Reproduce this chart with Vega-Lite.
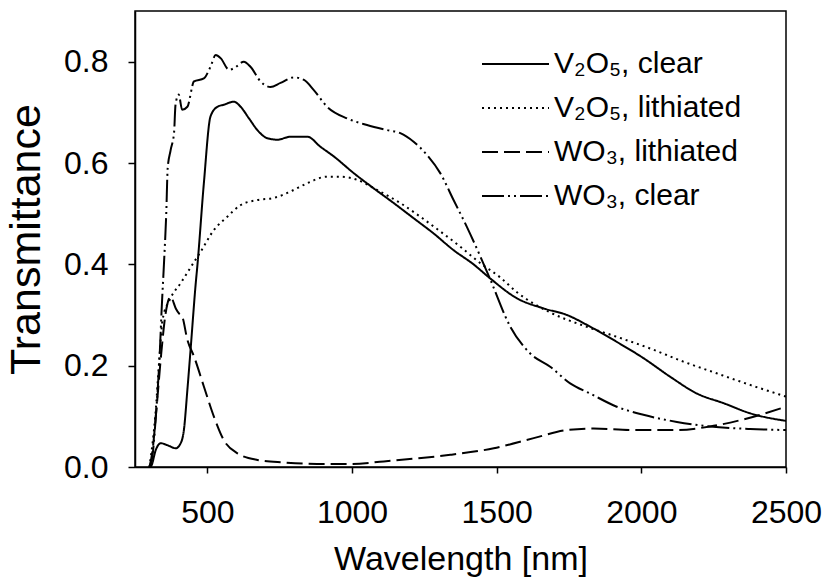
{
  "$schema": "https://vega.github.io/schema/vega-lite/v6.json",
  "width": 651,
  "height": 456,
  "autosize": "none",
  "padding": {"left": 135, "top": 11, "right": 41, "bottom": 119},
  "background": "white",
  "config": {
    "font": "Liberation Sans, Arial, sans-serif",
    "view": {"stroke": "black", "strokeWidth": 1.5}
  },
  "datasets": {
    "curves": [
      {"s": "WO₃, clear", "x": 300, "y": 0},
      {"s": "WO₃, clear", "x": 310, "y": 0.02},
      {"s": "WO₃, clear", "x": 322, "y": 0.10},
      {"s": "WO₃, clear", "x": 336, "y": 0.23},
      {"s": "WO₃, clear", "x": 342, "y": 0.31},
      {"s": "WO₃, clear", "x": 350, "y": 0.40},
      {"s": "WO₃, clear", "x": 358, "y": 0.50},
      {"s": "WO₃, clear", "x": 363, "y": 0.59},
      {"s": "WO₃, clear", "x": 373, "y": 0.625},
      {"s": "WO₃, clear", "x": 385, "y": 0.66},
      {"s": "WO₃, clear", "x": 390, "y": 0.715},
      {"s": "WO₃, clear", "x": 401, "y": 0.735},
      {"s": "WO₃, clear", "x": 413, "y": 0.705},
      {"s": "WO₃, clear", "x": 431, "y": 0.711},
      {"s": "WO₃, clear", "x": 454, "y": 0.761},
      {"s": "WO₃, clear", "x": 488, "y": 0.767},
      {"s": "WO₃, clear", "x": 511, "y": 0.790},
      {"s": "WO₃, clear", "x": 529, "y": 0.813},
      {"s": "WO₃, clear", "x": 546, "y": 0.807},
      {"s": "WO₃, clear", "x": 575, "y": 0.784},
      {"s": "WO₃, clear", "x": 592, "y": 0.787},
      {"s": "WO₃, clear", "x": 626, "y": 0.800},
      {"s": "WO₃, clear", "x": 649, "y": 0.790},
      {"s": "WO₃, clear", "x": 684, "y": 0.761},
      {"s": "WO₃, clear", "x": 718, "y": 0.750},
      {"s": "WO₃, clear", "x": 753, "y": 0.758},
      {"s": "WO₃, clear", "x": 799, "y": 0.769},
      {"s": "WO₃, clear", "x": 834, "y": 0.764},
      {"s": "WO₃, clear", "x": 868, "y": 0.744},
      {"s": "WO₃, clear", "x": 914, "y": 0.711},
      {"s": "WO₃, clear", "x": 983, "y": 0.688},
      {"s": "WO₃, clear", "x": 1052, "y": 0.675},
      {"s": "WO₃, clear", "x": 1121, "y": 0.665},
      {"s": "WO₃, clear", "x": 1167, "y": 0.659},
      {"s": "WO₃, clear", "x": 1213, "y": 0.642},
      {"s": "WO₃, clear", "x": 1259, "y": 0.616},
      {"s": "WO₃, clear", "x": 1305, "y": 0.580},
      {"s": "WO₃, clear", "x": 1351, "y": 0.527},
      {"s": "WO₃, clear", "x": 1397, "y": 0.474},
      {"s": "WO₃, clear", "x": 1444, "y": 0.415},
      {"s": "WO₃, clear", "x": 1478, "y": 0.370},
      {"s": "WO₃, clear", "x": 1547, "y": 0.277},
      {"s": "WO₃, clear", "x": 1616, "y": 0.224},
      {"s": "WO₃, clear", "x": 1685, "y": 0.198},
      {"s": "WO₃, clear", "x": 1754, "y": 0.165},
      {"s": "WO₃, clear", "x": 1823, "y": 0.145},
      {"s": "WO₃, clear", "x": 1915, "y": 0.119},
      {"s": "WO₃, clear", "x": 2007, "y": 0.103},
      {"s": "WO₃, clear", "x": 2123, "y": 0.089},
      {"s": "WO₃, clear", "x": 2238, "y": 0.080},
      {"s": "WO₃, clear", "x": 2376, "y": 0.075},
      {"s": "WO₃, clear", "x": 2500, "y": 0.073},

      {"s": "V₂O₅, clear", "x": 300, "y": 0},
      {"s": "V₂O₅, clear", "x": 306, "y": 0.002},
      {"s": "V₂O₅, clear", "x": 322, "y": 0.034},
      {"s": "V₂O₅, clear", "x": 339, "y": 0.047},
      {"s": "V₂O₅, clear", "x": 362, "y": 0.043},
      {"s": "V₂O₅, clear", "x": 391, "y": 0.037},
      {"s": "V₂O₅, clear", "x": 408, "y": 0.047},
      {"s": "V₂O₅, clear", "x": 419, "y": 0.073},
      {"s": "V₂O₅, clear", "x": 431, "y": 0.152},
      {"s": "V₂O₅, clear", "x": 442, "y": 0.231},
      {"s": "V₂O₅, clear", "x": 460, "y": 0.363},
      {"s": "V₂O₅, clear", "x": 466, "y": 0.400},
      {"s": "V₂O₅, clear", "x": 488, "y": 0.560},
      {"s": "V₂O₅, clear", "x": 511, "y": 0.692},
      {"s": "V₂O₅, clear", "x": 535, "y": 0.711},
      {"s": "V₂O₅, clear", "x": 557, "y": 0.715},
      {"s": "V₂O₅, clear", "x": 592, "y": 0.721},
      {"s": "V₂O₅, clear", "x": 615, "y": 0.711},
      {"s": "V₂O₅, clear", "x": 644, "y": 0.688},
      {"s": "V₂O₅, clear", "x": 673, "y": 0.665},
      {"s": "V₂O₅, clear", "x": 707, "y": 0.649},
      {"s": "V₂O₅, clear", "x": 742, "y": 0.646},
      {"s": "V₂O₅, clear", "x": 788, "y": 0.652},
      {"s": "V₂O₅, clear", "x": 845, "y": 0.652},
      {"s": "V₂O₅, clear", "x": 891, "y": 0.632},
      {"s": "V₂O₅, clear", "x": 937, "y": 0.613},
      {"s": "V₂O₅, clear", "x": 1006, "y": 0.580},
      {"s": "V₂O₅, clear", "x": 1075, "y": 0.550},
      {"s": "V₂O₅, clear", "x": 1144, "y": 0.521},
      {"s": "V₂O₅, clear", "x": 1213, "y": 0.491},
      {"s": "V₂O₅, clear", "x": 1282, "y": 0.461},
      {"s": "V₂O₅, clear", "x": 1351, "y": 0.428},
      {"s": "V₂O₅, clear", "x": 1420, "y": 0.400},
      {"s": "V₂O₅, clear", "x": 1478, "y": 0.372},
      {"s": "V₂O₅, clear", "x": 1570, "y": 0.333},
      {"s": "V₂O₅, clear", "x": 1662, "y": 0.313},
      {"s": "V₂O₅, clear", "x": 1743, "y": 0.300},
      {"s": "V₂O₅, clear", "x": 1823, "y": 0.277},
      {"s": "V₂O₅, clear", "x": 1915, "y": 0.247},
      {"s": "V₂O₅, clear", "x": 2007, "y": 0.215},
      {"s": "V₂O₅, clear", "x": 2100, "y": 0.178},
      {"s": "V₂O₅, clear", "x": 2192, "y": 0.145},
      {"s": "V₂O₅, clear", "x": 2284, "y": 0.126},
      {"s": "V₂O₅, clear", "x": 2376, "y": 0.106},
      {"s": "V₂O₅, clear", "x": 2500, "y": 0.091},

      {"s": "V₂O₅, lithiated", "x": 300, "y": 0},
      {"s": "V₂O₅, lithiated", "x": 320, "y": 0.10},
      {"s": "V₂O₅, lithiated", "x": 335, "y": 0.22},
      {"s": "V₂O₅, lithiated", "x": 345, "y": 0.29},
      {"s": "V₂O₅, lithiated", "x": 370, "y": 0.33},
      {"s": "V₂O₅, lithiated", "x": 408, "y": 0.363},
      {"s": "V₂O₅, lithiated", "x": 440, "y": 0.392},
      {"s": "V₂O₅, lithiated", "x": 477, "y": 0.425},
      {"s": "V₂O₅, lithiated", "x": 523, "y": 0.468},
      {"s": "V₂O₅, lithiated", "x": 569, "y": 0.494},
      {"s": "V₂O₅, lithiated", "x": 615, "y": 0.517},
      {"s": "V₂O₅, lithiated", "x": 673, "y": 0.527},
      {"s": "V₂O₅, lithiated", "x": 730, "y": 0.531},
      {"s": "V₂O₅, lithiated", "x": 788, "y": 0.544},
      {"s": "V₂O₅, lithiated", "x": 845, "y": 0.560},
      {"s": "V₂O₅, lithiated", "x": 914, "y": 0.573},
      {"s": "V₂O₅, lithiated", "x": 960, "y": 0.573},
      {"s": "V₂O₅, lithiated", "x": 1017, "y": 0.567},
      {"s": "V₂O₅, lithiated", "x": 1086, "y": 0.547},
      {"s": "V₂O₅, lithiated", "x": 1167, "y": 0.521},
      {"s": "V₂O₅, lithiated", "x": 1236, "y": 0.494},
      {"s": "V₂O₅, lithiated", "x": 1305, "y": 0.465},
      {"s": "V₂O₅, lithiated", "x": 1374, "y": 0.435},
      {"s": "V₂O₅, lithiated", "x": 1444, "y": 0.402},
      {"s": "V₂O₅, lithiated", "x": 1513, "y": 0.374},
      {"s": "V₂O₅, lithiated", "x": 1570, "y": 0.345},
      {"s": "V₂O₅, lithiated", "x": 1685, "y": 0.305},
      {"s": "V₂O₅, lithiated", "x": 1800, "y": 0.279},
      {"s": "V₂O₅, lithiated", "x": 1915, "y": 0.257},
      {"s": "V₂O₅, lithiated", "x": 2030, "y": 0.234},
      {"s": "V₂O₅, lithiated", "x": 2145, "y": 0.208},
      {"s": "V₂O₅, lithiated", "x": 2260, "y": 0.185},
      {"s": "V₂O₅, lithiated", "x": 2376, "y": 0.162},
      {"s": "V₂O₅, lithiated", "x": 2500, "y": 0.139},

      {"s": "WO₃, lithiated", "x": 300, "y": 0},
      {"s": "WO₃, lithiated", "x": 310, "y": 0.03},
      {"s": "WO₃, lithiated", "x": 325, "y": 0.12},
      {"s": "WO₃, lithiated", "x": 340, "y": 0.22},
      {"s": "WO₃, lithiated", "x": 355, "y": 0.30},
      {"s": "WO₃, lithiated", "x": 373, "y": 0.336},
      {"s": "WO₃, lithiated", "x": 391, "y": 0.313},
      {"s": "WO₃, lithiated", "x": 402, "y": 0.303},
      {"s": "WO₃, lithiated", "x": 413, "y": 0.297},
      {"s": "WO₃, lithiated", "x": 431, "y": 0.251},
      {"s": "WO₃, lithiated", "x": 454, "y": 0.218},
      {"s": "WO₃, lithiated", "x": 488, "y": 0.159},
      {"s": "WO₃, lithiated", "x": 523, "y": 0.099},
      {"s": "WO₃, lithiated", "x": 557, "y": 0.053},
      {"s": "WO₃, lithiated", "x": 604, "y": 0.027},
      {"s": "WO₃, lithiated", "x": 673, "y": 0.014},
      {"s": "WO₃, lithiated", "x": 764, "y": 0.009},
      {"s": "WO₃, lithiated", "x": 879, "y": 0.006},
      {"s": "WO₃, lithiated", "x": 995, "y": 0.006},
      {"s": "WO₃, lithiated", "x": 1110, "y": 0.011},
      {"s": "WO₃, lithiated", "x": 1225, "y": 0.017},
      {"s": "WO₃, lithiated", "x": 1340, "y": 0.024},
      {"s": "WO₃, lithiated", "x": 1490, "y": 0.037},
      {"s": "WO₃, lithiated", "x": 1628, "y": 0.057},
      {"s": "WO₃, lithiated", "x": 1743, "y": 0.073},
      {"s": "WO₃, lithiated", "x": 1835, "y": 0.076},
      {"s": "WO₃, lithiated", "x": 1973, "y": 0.073},
      {"s": "WO₃, lithiated", "x": 2123, "y": 0.073},
      {"s": "WO₃, lithiated", "x": 2238, "y": 0.080},
      {"s": "WO₃, lithiated", "x": 2353, "y": 0.094},
      {"s": "WO₃, lithiated", "x": 2500, "y": 0.119}
    ]
  },
  "data": {"name": "curves"},
  "mark": {"type": "line", "color": "black", "strokeWidth": 2, "interpolate": "monotone", "clip": true},
  "encoding": {
    "x": {
      "field": "x", "type": "quantitative",
      "scale": {"domain": [250, 2500], "nice": false},
      "axis": {
        "title": "Wavelength [nm]",
        "values": [500, 1000, 1500, 2000, 2500],
        "format": "d",
        "labelFlush": false,
        "grid": false,
        "domainColor": "black", "domainWidth": 1.5,
        "tickColor": "black", "tickWidth": 1.5, "tickSize": 6,
        "labelFontSize": 32, "labelColor": "black", "labelPadding": 24,
        "titleFontSize": 34, "titleFontWeight": "normal", "titleColor": "black", "titlePadding": 14
      }
    },
    "y": {
      "field": "y", "type": "quantitative",
      "scale": {"domain": [0, 0.9], "nice": false},
      "axis": {
        "title": "Transmittance",
        "values": [0, 0.2, 0.4, 0.6, 0.8],
        "format": ".1f",
        "labelFlush": false,
        "grid": false,
        "domainColor": "black", "domainWidth": 1.5,
        "tickColor": "black", "tickWidth": 1.5, "tickSize": 7,
        "labelFontSize": 32, "labelColor": "black", "labelPadding": 20,
        "titleFontSize": 43, "titleFontWeight": "normal", "titleColor": "black", "titlePadding": 15
      }
    },
    "detail": {"field": "s"},
    "strokeDash": {
      "field": "s", "type": "nominal",
      "scale": {
        "domain": ["V₂O₅, clear", "V₂O₅, lithiated", "WO₃, lithiated", "WO₃, clear"],
        "range": [[1, 0], [2, 4], [16, 6], [22, 4, 2, 4, 2, 4]]
      },
      "legend": {
        "title": null,
        "orient": "none",
        "legendX": 346,
        "legendY": 38,
        "symbolType": "stroke",
        "symbolSize": 4489,
        "symbolStrokeWidth": 2,
        "symbolStrokeColor": "black",
        "clipHeight": 30,
        "labelFontSize": 30,
        "labelColor": "black",
        "labelOffset": 4,
        "labelLimit": 0,
        "rowPadding": 14,
        "padding": 0
      }
    }
  }
}
